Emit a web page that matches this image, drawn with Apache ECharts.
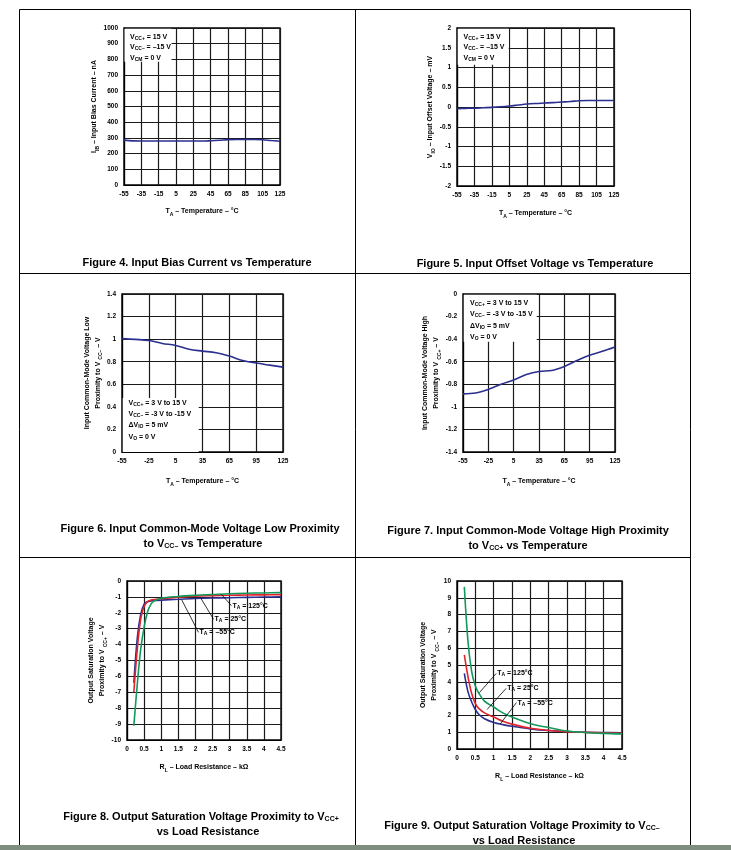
<!DOCTYPE html>
<html><head><meta charset="utf-8">
<script src="https://cdn.jsdelivr.net/npm/echarts@6/dist/echarts.min.js"></script>
<style>html,body{margin:0;padding:0;background:#fff}#c{width:731px;height:850px}</style>
</head><body><div id="c"></div>
<script>
// ---------- data ----------
const tempA = [-55,-45,-35,-25,-15,-5,5,15,25,35,45,55,65,75,85,95,105,115,125];
const biasCurrent = [286,281,280,280,280,280,280,280,280,280,282,285,289,290,290,290,288,283,279];
const offsetVoltage = [-0.04,-0.035,-0.03,-0.02,-0.01,0.005,0.025,0.05,0.075,0.09,0.1,0.11,0.125,0.14,0.16,0.165,0.165,0.165,0.165];

const tempB = [-55,-40,-25,-10,5,20,35,50,65,80,95,110,125];
const cmLowProx = [1.005,0.998,0.988,0.962,0.944,0.91,0.894,0.88,0.85,0.81,0.788,0.77,0.752];
const cmHighProx = [-0.885,-0.877,-0.845,-0.80,-0.762,-0.714,-0.686,-0.678,-0.642,-0.59,-0.543,-0.508,-0.469];

const loadR8 = [0.2,0.3,0.4,0.5,0.6,0.7,0.8,1,1.5,2,2.5,3,3.5,4,4.5];
const satHiM55 = [-6.4,-3.6,-2.1,-1.45,-1.3,-1.26,-1.23,-1.2,-1.15,-1.1,-1.07,-1.05,-1.03,-1.01,-1.0];
const satHi25  = [-7.0,-4.3,-2.4,-1.6,-1.3,-1.2,-1.16,-1.12,-1.02,-0.95,-0.92,-0.9,-0.88,-0.87,-0.86];
const satHi125 = [-9.1,-6.5,-4.3,-2.9,-1.95,-1.45,-1.25,-1.08,-0.97,-0.9,-0.85,-0.8,-0.77,-0.75,-0.73];

const loadR9 = [0.2,0.3,0.4,0.5,0.6,0.75,1,1.25,1.5,2,2.5,3,3.5,4,4.5];
const satLo125 = [9.65,6.4,4.6,3.75,3.3,2.85,2.5,2.15,1.9,1.5,1.28,1.07,0.98,0.93,0.9];
const satLo25  = [5.6,4.3,3.3,2.7,2.4,2.15,1.9,1.65,1.48,1.23,1.1,1.03,0.99,0.96,0.94];
const satLoM55 = [4.5,3.4,2.8,2.35,2.05,1.8,1.58,1.45,1.35,1.2,1.1,1.04,1.0,0.98,0.96];

// annotation arrows: [label, tail(x,y), tip(x,y)]
const arrows8 = [['125°C',[3.05,-1.55],[2.76,-0.84]],['25°C',[2.53,-2.41],[2.16,-1.09]],['–55°C',[2.09,-3.23],[1.60,-1.19]]];
const arrows9 = [['125°C',[1.07,4.5],[0.61,3.35]],['25°C',[1.34,3.61],[0.82,2.35]],['–55°C',[1.62,2.76],[1.18,1.49]]];

// ---------- style ----------
const FF = '"Liberation Sans", Arial, sans-serif';
const FN = '"Liberation Sans Narrow", "Liberation Sans", Arial, sans-serif';
const BLUE = '#2b2f8f', RED = '#e3232b', GREEN = '#12985a';
const subRich = {s:{fontSize:5, fontWeight:'bold', fontFamily:FF, color:'#000', verticalAlign:'bottom', padding:[3,0,0,0]}};

const grids = [
  {left:124, top:28, width:156, height:157},
  {left:457, top:28, width:157, height:158},
  {left:122, top:294, width:161, height:158},
  {left:463, top:294, width:152, height:158},
  {left:127, top:581, width:154, height:159},
  {left:457, top:581, width:165, height:168}
].map(g => Object.assign({show:true, borderColor:'#000', borderWidth:1.4, containLabel:false}, g));

function fmt(v){ return String(Math.round(v*100)/100); }
function axBase(){
  return {
    type:'value',
    axisLine:{show:true, onZero:false, lineStyle:{color:'#000', width:1.2}},
    axisTick:{show:false},
    axisLabel:{color:'#000', fontSize:6.5, fontWeight:'bold', fontFamily:FF, margin:6, showMinLabel:true, showMaxLabel:true, formatter:fmt},
    splitLine:{show:true, lineStyle:{color:'#1a1a1a', width:1.2}},
    nameTextStyle:{color:'#000', fontSize:7, fontWeight:'bold', fontFamily:FF, rich:subRich, lineHeight:11},
    nameLocation:'middle'
  };
}
function mkX(gi,min,max,interval,name,gap){
  return Object.assign(axBase(), {gridIndex:gi, min, max, interval, name, nameGap:gap});
}
function mkY(gi,min,max,interval,name,gap){
  return Object.assign(axBase(), {gridIndex:gi, min, max, interval, name, nameGap:gap, nameRotate:90});
}

const xNameT = 'T{s|A} – Temperature – °C';
const xNameR = 'R{s|L} – Load Resistance – kΩ';

const xAxes = [
  mkX(0,-55,125,20,xNameT,21),
  mkX(1,-55,125,20,xNameT,22),
  mkX(2,-55,125,30,xNameT,24),
  mkX(3,-55,125,30,xNameT,24),
  mkX(4,0,4.5,0.5,xNameR,22),
  mkX(5,0,4.5,0.5,xNameR,22)
];
const yAxes = [
  mkY(0,0,1000,100,'I{s|IB} – Input Bias Current – nA',24),
  mkY(1,-2,2,0.5,'V{s|IO} – Input Offset Voltage – mV',20),
  mkY(2,0,1.4,0.2,'Input Common-Mode Voltage Low\nProximity to V {s|CC–} – V',17),
  mkY(3,-1.4,0,0.2,'Input Common-Mode Voltage High\nProximity to V {s|CC+} – V',17),
  mkY(4,-10,0,1,'Output Saturation Voltage\nProximity to V {s|CC+} – V',15),
  mkY(5,0,10,1,'Output Saturation Voltage\nProximity to V {s|CC–} – V',15)
];

function zip(xs,ys){ return xs.map((x,i)=>[x,ys[i]]); }
function lineSeries(gi,data,color,extra){
  return Object.assign({type:'line', xAxisIndex:gi, yAxisIndex:gi, data, smooth:0.35, showSymbol:false, symbol:'none',
    lineStyle:{color, width:1.6}, z:3, silent:true}, extra||{});
}
function annot(list){
  return {
    markLine:{silent:true, symbol:['none','arrow'], symbolSize:[0,6], animation:false,
      lineStyle:{color:'#000', width:0.8, type:'solid'}, label:{show:false},
      data:list.map(a=>[{coord:a[1]},{coord:a[2]}])},
    markPoint:{silent:true, symbol:'circle', symbolSize:0, animation:false,
      data:list.map(a=>({coord:a[1], label:{show:true, position:'right', distance:1,
        formatter:'T{s|A} = '+a[0], color:'#000', fontSize:7, fontWeight:'bold', fontFamily:FF, rich:subRich}}))}
  };
}

const series = [
  lineSeries(0, zip(tempA,biasCurrent), BLUE),
  lineSeries(1, zip(tempA,offsetVoltage), BLUE),
  lineSeries(2, zip(tempB,cmLowProx), BLUE),
  lineSeries(3, zip(tempB,cmHighProx), BLUE),
  lineSeries(4, zip(loadR8,satHiM55), BLUE),
  lineSeries(4, zip(loadR8,satHi25), RED),
  lineSeries(4, zip(loadR8,satHi125), GREEN, annot(arrows8)),
  lineSeries(5, zip(loadR9,satLoM55), BLUE),
  lineSeries(5, zip(loadR9,satLo25), RED),
  lineSeries(5, zip(loadR9,satLo125), GREEN, annot(arrows9))
];

// ---------- graphics: frame, captions, condition boxes ----------
const G = [];
function line(x1,y1,x2,y2){ G.push({type:'line', shape:{x1,y1,x2,y2}, style:{stroke:'#000', lineWidth:1}, z:50, silent:true}); }
line(19.5,9.5,690.5,9.5); line(19.5,9.5,19.5,850); line(690.5,9.5,690.5,850); line(355.5,9.5,355.5,850);
line(19.5,273.5,690.5,273.5); line(19.5,557.5,690.5,557.5);
G.push({type:'rect', shape:{x:0,y:845,width:731,height:5}, style:{fill:'#7f8d80'}, z:51, silent:true});

function caption(x,y,text){
  G.push({type:'text', x, y, z:60, silent:true, style:{text, fill:'#000', font:'bold 11px '+FN, align:'center', verticalAlign:'middle',
    rich:{s:{fontSize:7, fontWeight:'bold', fontFamily:FN, fill:'#000', verticalAlign:'bottom', padding:[4,0,0,0]}}}});
}
caption(197,263,'Figure 4. Input Bias Current vs Temperature');
caption(535,264,'Figure 5. Input Offset Voltage vs Temperature');
caption(200,529,'Figure 6. Input Common-Mode Voltage Low Proximity');
caption(203,544,'to V{s|CC–} vs Temperature');
caption(528,531,'Figure 7. Input Common-Mode Voltage High Proximity');
caption(528,546,'to V{s|CC+} vs Temperature');
caption(201,817,'Figure 8. Output Saturation Voltage Proximity to V{s|CC+}');
caption(208,832,'vs Load Resistance');
caption(522,826,'Figure 9. Output Saturation Voltage Proximity to V{s|CC–}');
caption(524,841,'vs Load Resistance');

function condBox(x,y,w,h,tx,ys,lines){
  G.push({type:'rect', shape:{x,y,width:w,height:h}, style:{fill:'#fff'}, z:70, silent:true});
  lines.forEach((t,i)=>G.push({type:'text', x:tx, y:ys[i], z:71, silent:true,
    style:{text:t, fill:'#000', font:'bold 7px '+FF, verticalAlign:'middle', rich:{s:{fontSize:5, fontWeight:'bold', fontFamily:FF, fill:'#000', verticalAlign:'bottom', padding:[3,0,0,0]}}}}));
}
const condA = ['V{s|CC+} = 15 V','V{s|CC–} = –15 V','V{s|CM} = 0 V'];
const condB = ['V{s|CC+} = 3 V to 15 V','V{s|CC–} = -3 V to -15 V','ΔV{s|IO} = 5 mV','V{s|O} = 0 V'];
condBox(124.5,28.7,47,33,130,[36.7,47.3,58],condA);
condBox(457.7,28.7,51,36,463.5,[36.7,47.3,58],condA);
condBox(122.7,398,76,54,128.5,[403.5,414.3,425.3,436.7],condB);
condBox(463.7,294.7,73,47,470,[303.5,314.5,325.7,336.8],condB);

const chart = echarts.init(document.getElementById('c'), null, {renderer:'canvas'});
chart.setOption({animation:false, backgroundColor:'#fff', grid:grids, xAxis:xAxes, yAxis:yAxes, series, graphic:G});
</script></body></html>
